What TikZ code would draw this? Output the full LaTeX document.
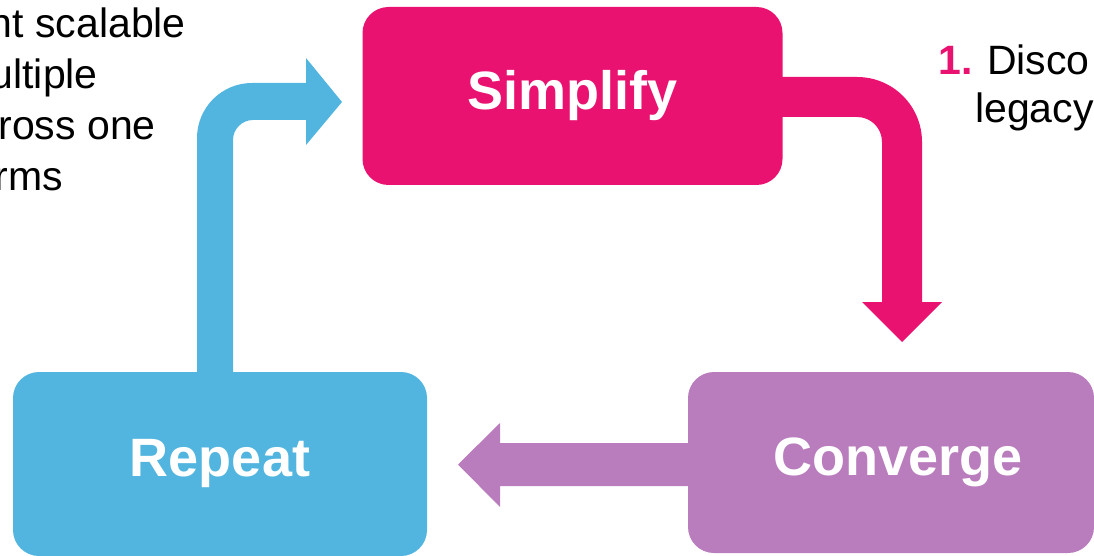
\documentclass[tikz,border=0pt]{standalone}
\usepackage{fontspec}
\setmainfont{Liberation Sans}
\definecolor{cpink}{RGB}{234,18,112}
\definecolor{cblue}{RGB}{82,181,223}
\definecolor{cpurple}{RGB}{185,124,189}
\tikzset{
  box/.style={rounded corners=26pt, inner sep=0pt, text=white,
    font=\fontsize{54}{60}\selectfont\bfseries},
  body/.style={inner sep=0pt, font=\fontsize{41}{50}\selectfont, text=black},
}
\begin{document}
\begin{tikzpicture}[x=1pt,y=-1pt]
\useasboundingbox (0,0) rectangle (1094,556);

% arrows
\fill[cblue] (197,0 |- 0,372) -- (197,138)
  .. controls (197,107.6) and (221.6,83) .. (252,83)
  -- (306,83) -- (306,58) -- (342,102) -- (306,145) -- (306,120)
  -- (253,120) .. controls (242,120) and (233,129) .. (233,140)
  -- (233,372) -- cycle;

\fill[cpink] (770,77) -- (857,77)
  .. controls (893,77) and (922,106) .. (922,142)
  -- (922,302) -- (942,302) -- (902,342) -- (862,302) -- (882,302)
  -- (882,142) .. controls (882,128) and (871,117) .. (857,117)
  -- (770,117) -- cycle;

\fill[cpurple] (700,443) -- (500,443) -- (500,423) -- (458,464.5)
  -- (500,507) -- (500,486) -- (700,486) -- cycle;

% boxes
\node[box, fill=cpink, minimum width=420pt, minimum height=178pt]
  (simplify) at (572.5,96) {Simplify};
\node[box, fill=cblue, minimum width=414pt, minimum height=184pt]
  (repeat) at (220,464) {Repeat};
\node[box, fill=cpurple, minimum width=406pt, minimum height=181pt]
  (converge) at (891,462.5) {\hspace*{14pt}Converge};

% side texts
\node[body, anchor=base east] (l1) at (186,38) {nt scalable};
\node[body, anchor=base east] (l2) at (98,89) {ultiple};
\node[body, anchor=base east] (l3) at (156,140) {ross one};
\node[body, anchor=base east] (l4) at (63,190) {rms};

\node[body, anchor=base west, text=cpink, font=\fontsize{41}{50}\selectfont\bfseries] (n1) at (938,75) {1.};
\node[body, anchor=base west] (r1) at (987,75) {Disco};
\node[body, anchor=base west] (r2) at (975,123) {legacy};
\end{tikzpicture}
\end{document}
